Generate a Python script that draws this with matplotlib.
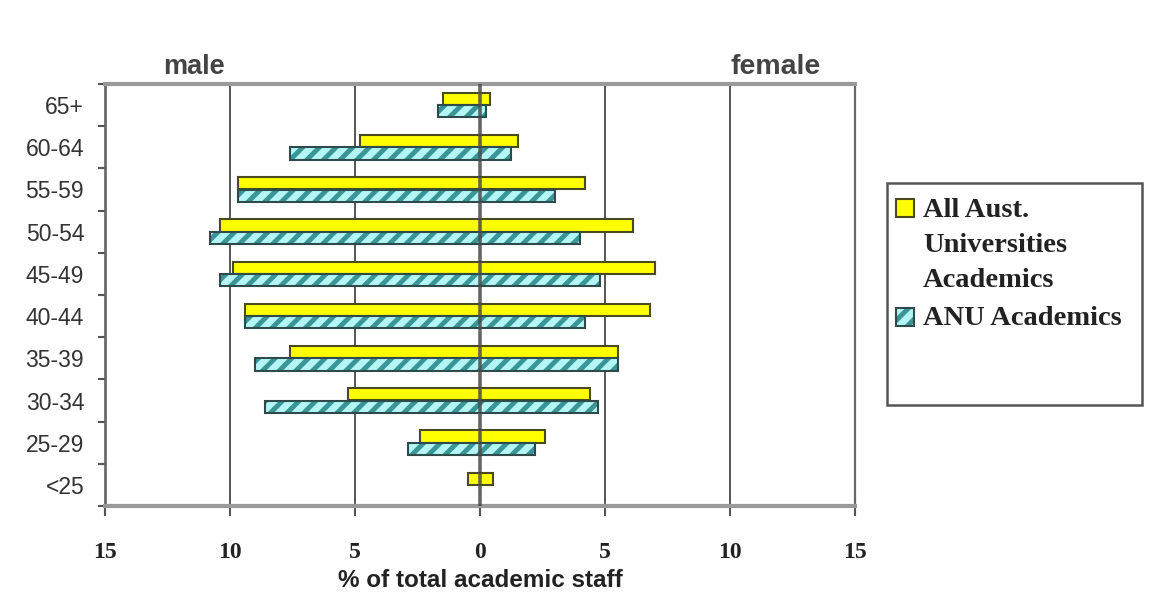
import matplotlib
matplotlib.use("Agg")
import matplotlib.pyplot as plt
from matplotlib.patches import Rectangle
import numpy as np

# ---- data ----
categories = ['65+', '60-64', '55-59', '50-54', '45-49', '40-44', '35-39', '30-34', '25-29', '<25']
aus_male = [1.5, 4.8, 9.7, 10.4, 9.9, 9.4, 7.6, 5.3, 2.4, 0.5]
aus_female = [0.4, 1.5, 4.2, 6.1, 7.0, 6.8, 5.5, 4.4, 2.6, 0.5]
anu_male = [1.7, 7.6, 9.7, 10.8, 10.4, 9.4, 9.0, 8.6, 2.9, 0.0]
anu_female = [0.25, 1.25, 3.0, 4.0, 4.8, 4.2, 5.5, 4.7, 2.2, 0.0]
xticks = [-15, -10, -5, 0, 5, 10, 15]
xtick_labels = ['15', '10', '5', '0', '5', '10', '15']
series_labels = ['All Aust.\nUniversities\nAcademics', 'ANU Academics']

W, H = 1154, 598
fig = plt.figure(figsize=(W / 100, H / 100), dpi=100)
fig.patch.set_facecolor('white')

def fx(px):
    return px / W

def fy(py):
    return 1 - py / H

ax = fig.add_axes([fx(105), fy(506), fx(855) - fx(105), fy(84) - fy(506)])

yellow = '#FFFF00'
yellow_edge = '#4A4A20'
cyan_face = '#B4F6F6'
teal = '#3A9696'
bar_edge = '#2F4A4A'

y = np.arange(len(categories))
h = 0.29
off = 0.148
am = np.array(aus_male); af = np.array(aus_female)
nm = np.array(anu_male); nf = np.array(anu_female)

plt.rcParams['hatch.linewidth'] = 3.5

ax.barh(y - off, am + af, left=-am, height=h, color=yellow,
        edgecolor=yellow_edge, linewidth=1.5, zorder=2)
mask = (nm + nf) > 0
ax.barh(y[mask] + off, (nm + nf)[mask], left=-nm[mask], height=h, color=cyan_face,
        edgecolor=teal, hatch='//', linewidth=0, zorder=2)
ax.barh(y[mask] + off, (nm + nf)[mask], left=-nm[mask], height=h, color='none',
        edgecolor=bar_edge, linewidth=1.5, zorder=2.1)

# grid lines
for gx in [-10, -5, 5, 10]:
    ax.axvline(gx, color='#555555', lw=1.4, zorder=1)
ax.axvline(0, color='#4A4A4A', lw=2.6, alpha=0.85, zorder=3)

ax.set_xlim(-15, 15)
ax.set_ylim(len(categories) - 0.5, -0.5)

ax.set_xticks(xticks)
ax.set_xticklabels(xtick_labels, fontfamily='Liberation Serif', fontweight='bold',
                   fontsize=17, color='#222222')
ax.tick_params(axis='x', direction='out', length=7, width=1.5, color='#555555', pad=19)

ax.set_yticks(y)
ax.set_yticklabels(categories, fontfamily='Liberation Sans', fontsize=16.5, color='#333333')
ax.tick_params(axis='y', which='major', length=0, pad=15)
ax.set_yticks(np.arange(-0.5, len(categories), 1.0), minor=True)
ax.tick_params(axis='y', which='minor', direction='out', length=5, width=1.5, color='#555555')

for s in ['top', 'bottom']:
    ax.spines[s].set_color('#9A9A9A')
    ax.spines[s].set_linewidth(3)
ax.spines['left'].set_color('#6A6A6A')
ax.spines['left'].set_linewidth(2)
ax.spines['right'].set_color('#666666')
ax.spines['right'].set_linewidth(1.6)

ax.set_xlabel('% of total academic staff', fontfamily='Liberation Sans',
              fontweight='bold', fontsize=17.5, color='#222222', labelpad=4)

# male / female headers
fig.text(fx(194), fy(74), 'male', ha='center', va='baseline', fontfamily='Liberation Sans',
         fontweight='bold', fontsize=19.5, color='#444444')
fig.text(fx(776), fy(74), 'female', ha='center', va='baseline', fontfamily='Liberation Sans',
         fontweight='bold', fontsize=20.5, color='#444444')

# legend (drawn manually)
fig.add_artist(Rectangle((fx(887), fy(405)), fx(1142) - fx(887), fy(183) - fy(405),
                         transform=fig.transFigure, facecolor='white', edgecolor='#555555',
                         linewidth=1.8))
fig.add_artist(Rectangle((fx(896), fy(217)), fx(18), 18 / H, transform=fig.transFigure,
                         facecolor=yellow, edgecolor=yellow_edge, linewidth=1.5))
fig.add_artist(Rectangle((fx(896), fy(326)), fx(18), 18 / H, transform=fig.transFigure,
                         facecolor=cyan_face, edgecolor=teal, hatch='//', linewidth=0))
fig.add_artist(Rectangle((fx(896), fy(326)), fx(18), 18 / H, transform=fig.transFigure,
                         facecolor='none', edgecolor=bar_edge, linewidth=1.5))
line_baselines = [217, 252, 287]
for line, by in zip(series_labels[0].split('\n'), line_baselines):
    fig.text(fx(923), fy(by), line, ha='left', va='baseline',
             fontfamily='Liberation Serif', fontweight='bold', fontsize=20.5, color='#222222')
fig.text(fx(923), fy(325), series_labels[1], ha='left', va='baseline',
         fontfamily='Liberation Serif', fontweight='bold', fontsize=20.5, color='#222222')

fig.savefig('out.png', dpi=100, facecolor='white')
